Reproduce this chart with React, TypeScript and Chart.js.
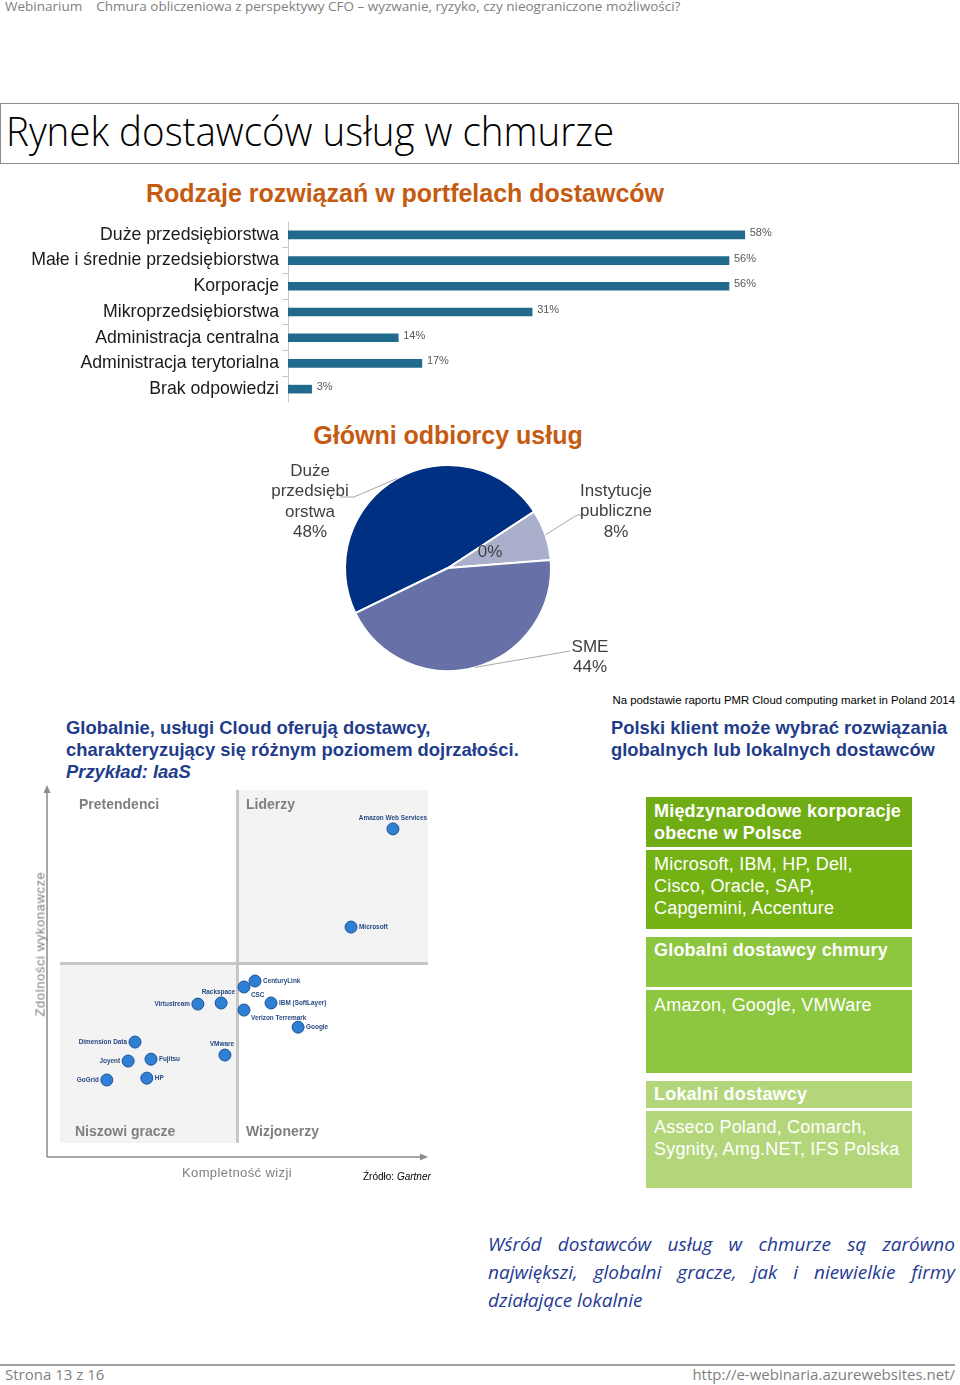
import React, { useEffect, useRef } from "react";
import { Chart, registerables } from "chart.js";

Chart.register(...registerables);

// ---------- DATA ----------
const barCategories = [
  "Duże przedsiębiorstwa",
  "Małe i średnie przedsiębiorstwa",
  "Korporacje",
  "Mikroprzedsiębiorstwa",
  "Administracja centralna",
  "Administracja terytorialna",
  "Brak odpowiedzi",
];
const barValues = [58, 56, 56, 31, 14, 17, 3];

const pieCategories = ["Duże przedsiębiorstwa", "Inne", "Instytucje publiczne", "SME"];
const pieValues = [48, 0, 8, 44];
const pieLabelLines = [["Duże", "przedsiębi", "orstwa"], [], ["Instytucje", "publiczne"], ["SME"]];

const vendorNames = [
  "Amazon Web Services",
  "Microsoft",
  "CenturyLink",
  "CSC",
  "Rackspace",
  "IBM (SoftLayer)",
  "Virtustream",
  "Verizon Terremark",
  "Google",
  "Dimension Data",
  "VMware",
  "Fujitsu",
  "Joyent",
  "HP",
  "GoGrid",
];
const vendorVision = [90.8, 79.8, 54.6, 51.7, 45.7, 58.8, 39.6, 51.7, 65.9, 23.1, 46.7, 27.3, 21.3, 26.2, 15.7];
const vendorExecution = [88.2, 61.8, 47.3, 45.7, 41.4, 41.4, 41.1, 39.5, 34.9, 30.9, 27.4, 26.3, 25.8, 21.2, 20.7];
const vendorLabelSide = [
  "above", "right", "right", "belowRight", "aboveLeft", "right", "left", "belowRight",
  "right", "left", "above", "right", "left", "right", "left",
];
// quadrant geometry in axis units
const QUAD_LEFT = 3.4;
const QUAD_RIGHT = 100;
const QUAD_TOP = 98.7;
const QUAD_BOTTOM = 3.8;
const QUAD_MID_X = 50;
const QUAD_MID_Y = 52;

// ---------- STYLE ----------
const ARIAL = '"Liberation Sans", Arial, Helvetica, sans-serif';
const SEGOE = '"Open Sans", "Noto Sans", "DejaVu Sans", sans-serif';
const NARROW = '"Liberation Sans Narrow", "Arial Narrow", "Liberation Sans", Arial, sans-serif';
const ORANGE = "#C55A11";
const NAVY_TEXT = "#1F3D8C";

// ---------- PLUGINS ----------
const barValuePlugin = {
  id: "barValues",
  afterDatasetsDraw(chart: any) {
    const ctx = chart.ctx;
    const meta = chart.getDatasetMeta(0);
    ctx.save();
    ctx.font = `11px ${ARIAL}`;
    ctx.fillStyle = "#595959";
    ctx.textAlign = "left";
    ctx.textBaseline = "middle";
    meta.data.forEach((bar: any, i: number) => {
      ctx.fillText(`${barValues[i]}%`, bar.x + 5, bar.y - 2);
    });
    ctx.restore();
  },
};

// label layout offsets (relative to pie centre) for text; leader anchors
const PIE_TEXT_POS = [
  { dx: -138, dy: -97 },
  { dx: 42, dy: -16 },
  { dx: 168, dy: -77 },
  { dx: 142, dy: 79 },
];
const PIE_LEADER = [
  [{ dx: -94, dy: -71 }, { dx: -108, dy: -71 }],
  null,
  [{ dx: 129, dy: -53 }, { dx: 135, dy: -53 }],
  [{ dx: 122, dy: 83 }],
];

const pieLabelPlugin = {
  id: "pieLabels",
  afterDatasetsDraw(chart: any) {
    const ctx = chart.ctx;
    const meta = chart.getDatasetMeta(0);
    ctx.save();
    meta.data.forEach((arc: any, i: number) => {
      const p = arc.getProps(["x", "y", "startAngle", "endAngle", "outerRadius"], true);
      const mid = (p.startAngle + p.endAngle) / 2;
      const leader = PIE_LEADER[i];
      if (leader) {
        ctx.strokeStyle = "#A6A6A6";
        ctx.lineWidth = 1;
        ctx.beginPath();
        ctx.moveTo(p.x + Math.cos(mid) * p.outerRadius, p.y + Math.sin(mid) * p.outerRadius);
        leader.forEach((pt) => ctx.lineTo(p.x + pt.dx, p.y + pt.dy));
        ctx.stroke();
      }
      const lines = [...pieLabelLines[i], `${pieValues[i]}%`];
      const pos = PIE_TEXT_POS[i];
      ctx.font = `17px ${ARIAL}`;
      ctx.fillStyle = "#404040";
      ctx.textAlign = "center";
      ctx.textBaseline = "middle";
      lines.forEach((ln, k) => {
        ctx.fillText(ln, p.x + pos.dx, p.y + pos.dy + k * 20.5);
      });
    });
    ctx.restore();
  },
};

const quadrantPlugin = {
  id: "quadrants",
  beforeDatasetsDraw(chart: any) {
    const { ctx, scales, chartArea } = chart;
    const X = (v: number) => scales.x.getPixelForValue(v);
    const Y = (v: number) => scales.y.getPixelForValue(v);
    ctx.save();
    ctx.fillStyle = "#F3F3F3";
    ctx.fillRect(X(QUAD_MID_X), Y(QUAD_TOP), X(QUAD_RIGHT) - X(QUAD_MID_X), Y(QUAD_MID_Y) - Y(QUAD_TOP));
    ctx.fillRect(X(QUAD_LEFT), Y(QUAD_MID_Y), X(QUAD_MID_X) - X(QUAD_LEFT), Y(QUAD_BOTTOM) - Y(QUAD_MID_Y));
    ctx.strokeStyle = "#C6C6C6";
    ctx.lineWidth = 3;
    ctx.beginPath();
    ctx.moveTo(X(QUAD_MID_X), Y(QUAD_TOP));
    ctx.lineTo(X(QUAD_MID_X), Y(QUAD_BOTTOM));
    ctx.moveTo(X(QUAD_LEFT), Y(QUAD_MID_Y));
    ctx.lineTo(X(QUAD_RIGHT), Y(QUAD_MID_Y));
    ctx.stroke();
    // axes with arrows
    const l = chartArea.left, b = chartArea.bottom, t = chartArea.top, r = chartArea.right;
    ctx.strokeStyle = "#8C8C8C";
    ctx.fillStyle = "#8C8C8C";
    ctx.lineWidth = 1.5;
    ctx.beginPath();
    ctx.moveTo(l, b);
    ctx.lineTo(l, t + 6);
    ctx.moveTo(l, b);
    ctx.lineTo(r - 6, b);
    ctx.stroke();
    ctx.beginPath();
    ctx.moveTo(l, t);
    ctx.lineTo(l - 3.5, t + 8);
    ctx.lineTo(l + 3.5, t + 8);
    ctx.closePath();
    ctx.fill();
    ctx.beginPath();
    ctx.moveTo(r, b);
    ctx.lineTo(r - 8, b - 3.5);
    ctx.lineTo(r - 8, b + 3.5);
    ctx.closePath();
    ctx.fill();
    ctx.restore();
  },
  afterDatasetsDraw(chart: any) {
    const ctx = chart.ctx;
    const meta = chart.getDatasetMeta(0);
    ctx.save();
    ctx.font = `bold 8px ${ARIAL}`;
    ctx.fillStyle = "#284A84";
    ctx.textBaseline = "middle";
    const sx = 0.8;
    meta.data.forEach((pt: any, i: number) => {
      const side = vendorLabelSide[i];
      const name = vendorNames[i];
      let x = pt.x, y = pt.y, align: CanvasTextAlign = "left";
      if (side === "right") { x += 8; }
      else if (side === "left") { x -= 8; align = "right"; }
      else if (side === "above") { y -= 11; align = "center"; if (name === "VMware") x -= 3; }
      else if (side === "aboveLeft") { x += 14; y -= 11; align = "right"; }
      else if (side === "belowRight") { x += 7; y += 8; }
      ctx.save();
      ctx.translate(x, y);
      ctx.scale(sx, 1);
      ctx.textAlign = align;
      ctx.fillText(name, 0, 0);
      ctx.restore();
    });
    ctx.restore();
  },
};

// ---------- CHARTS ----------
function BarChart() {
  const ref = useRef<HTMLCanvasElement>(null);
  useEffect(() => {
    const chart = new Chart(ref.current as HTMLCanvasElement, {
      type: "bar",
      data: {
        labels: barCategories,
        datasets: [{ data: barValues, backgroundColor: "#226A8B", barThickness: 8 }],
      },
      options: {
        indexAxis: "y",
        responsive: false,
        animation: false,
        events: [],
        layout: { padding: { left: 0, right: 42, top: 0, bottom: 0 } },
        plugins: { legend: { display: false }, tooltip: { enabled: false } },
        scales: {
          x: { display: false, min: 0, max: 80 },
          y: {
            afterFit: (s: any) => { s.width = 288; s.paddingTop = 0; s.paddingBottom = 0; },
            border: { color: "#C8C8C8" },
            grid: { offset: true, drawOnChartArea: false, color: "#C8C8C8", tickLength: 6 },
            ticks: { color: "#1A1A1A", font: { size: 17.7, family: ARIAL }, padding: 3 },
          },
        },
      } as any,
      plugins: [barValuePlugin],
    });
    return () => chart.destroy();
  }, []);
  return <canvas ref={ref} width={960} height={180} style={{ position: "absolute", left: 0, top: 222 }} />;
}

function PieChart() {
  const ref = useRef<HTMLCanvasElement>(null);
  useEffect(() => {
    const chart = new Chart(ref.current as HTMLCanvasElement, {
      type: "pie",
      data: {
        labels: pieCategories,
        datasets: [{
          data: pieValues,
          backgroundColor: ["#003082", "#8E96BE", "#AAAFCB", "#6771A7"],
          borderColor: "#FFFFFF",
          borderWidth: 2,
        }],
      },
      options: {
        responsive: false,
        animation: false,
        events: [],
        rotation: 244,
        layout: { padding: 9 },
        plugins: { legend: { display: false }, tooltip: { enabled: false } },
      } as any,
      plugins: [pieLabelPlugin],
    });
    return () => chart.destroy();
  }, []);
  return <canvas ref={ref} width={500} height={226} style={{ position: "absolute", left: 198, top: 455 }} />;
}

function QuadrantChart() {
  const ref = useRef<HTMLCanvasElement>(null);
  useEffect(() => {
    const chart = new Chart(ref.current as HTMLCanvasElement, {
      type: "scatter",
      data: {
        datasets: [{
          data: vendorNames.map((_, i) => ({ x: vendorVision[i], y: vendorExecution[i] })),
          pointRadius: 6,
          pointBackgroundColor: "#2F80D5",
          pointBorderColor: "#1B5296",
          pointBorderWidth: 1,
        }],
      },
      options: {
        responsive: false,
        animation: false,
        events: [],
        layout: { padding: { left: 47, top: 15, right: 32, bottom: 13 } },
        plugins: { legend: { display: false }, tooltip: { enabled: false } },
        scales: {
          x: { display: false, min: 0, max: 100 },
          y: { display: false, min: 0, max: 100 },
        },
      } as any,
      plugins: [quadrantPlugin],
    });
    return () => chart.destroy();
  }, []);
  return <canvas ref={ref} width={460} height={400} style={{ position: "absolute", left: 0, top: 770 }} />;
}

// ---------- LAYOUT HELPERS ----------
function T(props: { x: number; y: number; size: number; style?: React.CSSProperties; children: React.ReactNode }) {
  return (
    <div
      style={{
        position: "absolute",
        left: props.x,
        top: props.y,
        fontSize: props.size,
        lineHeight: 1,
        whiteSpace: "nowrap",
        ...props.style,
      }}
    >
      {props.children}
    </div>
  );
}

const boxBase: React.CSSProperties = {
  position: "absolute",
  left: 646,
  width: 266,
  color: "#FFFFFF",
  fontFamily: ARIAL,
  fontSize: 18,
  lineHeight: "22px",
  paddingLeft: 8,
  boxSizing: "border-box",
  letterSpacing: 0.2,
  whiteSpace: "nowrap",
};

export default function App() {
  return (
    <div
      style={{
        position: "absolute",
        left: 0,
        top: 0,
        width: 960,
        height: 1385,
        background: "#FFFFFF",
        overflow: "hidden",
        fontFamily: ARIAL,
      }}
    >
      {/* page header */}
      <T x={5} y={0} size={13.5} style={{ fontFamily: SEGOE, color: "#7F7F7F" }}>
        Webinarium&nbsp;&nbsp;&nbsp;&nbsp;Chmura obliczeniowa z perspektywy CFO – wyzwanie, ryzyko, czy nieograniczone możliwości?
      </T>

      {/* title box */}
      <div
        style={{
          position: "absolute",
          left: 0,
          top: 103,
          width: 959,
          height: 61,
          border: "1px solid #8C8C8C",
          boxSizing: "border-box",
        }}
      />
      <T
        x={6}
        y={111}
        size={40}
        style={{ fontFamily: SEGOE, fontWeight: 300, color: "#000000", transform: "scaleX(0.963)", transformOrigin: "left top" }}
      >
        Rynek dostawców usług w chmurze
      </T>

      {/* section titles */}
      <T x={405} y={181} size={25} style={{ fontFamily: NARROW, fontWeight: "bold", color: ORANGE, transform: "translateX(-50%)" }}>
        Rodzaje rozwiązań w portfelach dostawców
      </T>
      <BarChart />

      <T x={448} y={423} size={25} style={{ fontFamily: NARROW, fontWeight: "bold", color: ORANGE, transform: "translateX(-50%)" }}>
        Główni odbiorcy usług
      </T>
      <PieChart />

      {/* source line */}
      <T x={955} y={695} size={11.4} style={{ fontFamily: NARROW, color: "#000000", transform: "translateX(-100%)" }}>
        Na podstawie raportu PMR Cloud computing market in Poland 2014
      </T>

      {/* left heading */}
      <div
        style={{
          position: "absolute",
          left: 66,
          top: 717,
          fontSize: 18.4,
          lineHeight: "22px",
          fontWeight: "bold",
          color: NAVY_TEXT,
          fontFamily: NARROW,
          whiteSpace: "nowrap",
        }}
      >
        <div>Globalnie, usługi Cloud oferują dostawcy,</div>
        <div>charakteryzujący się różnym poziomem dojrzałości.</div>
        <div style={{ fontStyle: "italic" }}>Przykład: IaaS</div>
      </div>

      {/* right heading */}
      <div
        style={{
          position: "absolute",
          left: 611,
          top: 717,
          fontSize: 18.4,
          lineHeight: "22px",
          fontWeight: "bold",
          color: NAVY_TEXT,
          fontFamily: NARROW,
          whiteSpace: "nowrap",
        }}
      >
        <div>Polski klient może wybrać rozwiązania</div>
        <div>globalnych lub lokalnych dostawców</div>
      </div>

      {/* quadrant chart */}
      <QuadrantChart />
      <T x={79} y={797} size={14} style={{ fontWeight: "bold", color: "#7F7F7F" }}>Pretendenci</T>
      <T x={246} y={797} size={14} style={{ fontWeight: "bold", color: "#7F7F7F" }}>Liderzy</T>
      <T x={75} y={1124} size={14} style={{ fontWeight: "bold", color: "#7F7F7F" }}>Niszowi gracze</T>
      <T x={246} y={1124} size={14} style={{ fontWeight: "bold", color: "#7F7F7F" }}>Wizjonerzy</T>
      <T x={237} y={1166} size={13} style={{ color: "#7F7F7F", letterSpacing: 0.4, transform: "translateX(-50%)" }}>
        Kompletność wizji
      </T>
      <T x={40} y={944} size={13} style={{ color: "#7F7F7F", letterSpacing: 0.6, transform: "translate(-50%,-50%) rotate(-90deg)" }}>
        Zdolności wykonawcze
      </T>
      <T x={363} y={1172} size={10} style={{ color: "#000000" }}>
        Źródło: <i>Gartner</i>
      </T>

      {/* green boxes */}
      <div style={{ ...boxBase, top: 797, height: 50, background: "#70AD14", fontWeight: "bold", paddingTop: 3 }}>
        Międzynarodowe korporacje<br />obecne w Polsce
      </div>
      <div style={{ ...boxBase, top: 850, height: 79, background: "#74B214", paddingTop: 3 }}>
        Microsoft, IBM, HP, Dell,<br />Cisco, Oracle, SAP,<br />Capgemini, Accenture
      </div>
      <div style={{ ...boxBase, top: 937, height: 50, background: "#8DC63F", fontWeight: "bold", paddingTop: 2 }}>
        Globalni dostawcy chmury
      </div>
      <div style={{ ...boxBase, top: 990, height: 83, background: "#8DC63F", paddingTop: 4 }}>
        Amazon, Google, VMWare
      </div>
      <div style={{ ...boxBase, top: 1081, height: 27, background: "#B3D67B", fontWeight: "bold", paddingTop: 2 }}>
        Lokalni dostawcy
      </div>
      <div style={{ ...boxBase, top: 1111, height: 77, background: "#B3D67B", paddingTop: 5 }}>
        Asseco Poland, Comarch,<br />Sygnity, Amg.NET, IFS Polska
      </div>

      {/* italic summary */}
      <div
        style={{
          position: "absolute",
          left: 488,
          top: 1230,
          width: 467,
          fontFamily: SEGOE,
          fontStyle: "italic",
          fontSize: 19,
          lineHeight: "28px",
          color: "#1F3A93",
          textAlign: "justify",
        }}
      >
        Wśród dostawców usług w chmurze są zarówno największi, globalni gracze, jak i niewielkie firmy działające lokalnie
      </div>

      {/* footer */}
      <div style={{ position: "absolute", left: 0, top: 1364, width: 955, height: 2, background: "#A0A0A0" }} />
      <T x={5} y={1367} size={15} style={{ fontFamily: SEGOE, color: "#7F7F7F" }}>Strona 13 z 16</T>
      <T x={955} y={1367} size={15} style={{ fontFamily: SEGOE, color: "#7F7F7F", transform: "translateX(-100%)" }}>
        http://e-webinaria.azurewebsites.net/
      </T>
    </div>
  );
}
